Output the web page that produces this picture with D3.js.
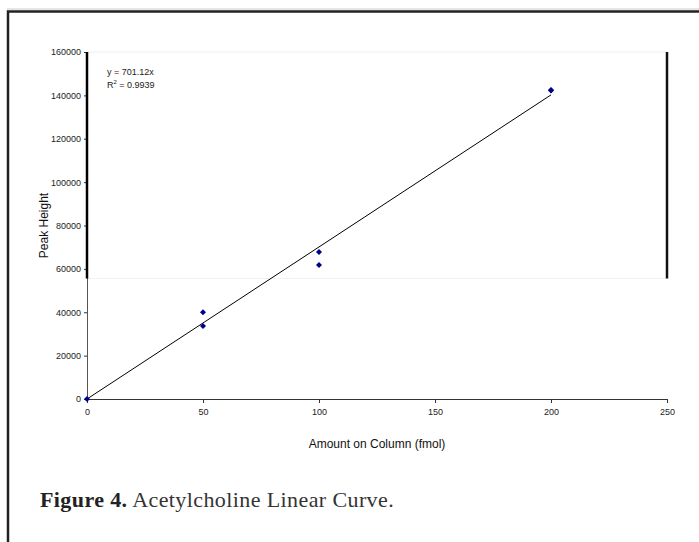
<!DOCTYPE html>
<html>
<head>
<meta charset="utf-8">
<script src="https://cdn.jsdelivr.net/npm/d3@7"></script>
<style>
html,body{margin:0;padding:0;background:#fff;}
svg{display:block;}
</style>
</head>
<body>
<script>
// Data
const amounts = [0, 50, 50, 100, 100, 200, 200];
const peakHeights = [0, 40000, 33700, 67800, 61800, 142500, 142200];
const slope = 701.12;
const rSquared = "0.9939";
const xTicks = [0, 50, 100, 150, 200, 250];
const yTicks = [0, 20000, 40000, 60000, 80000, 100000, 120000, 140000, 160000];
const xTitle = "Amount on Column (fmol)";
const yTitle = "Peak Height";
const captionBold = "Figure 4.";
const captionText = " Acetylcholine Linear Curve.";

const W = 699, H = 542;
const svg = d3.select("body").append("svg").attr("width", W).attr("height", H);

// outer frame
svg.append("line").attr("x1", 7).attr("x2", W).attr("y1", 9).attr("y2", 9)
  .attr("stroke", "#ccc").attr("stroke-width", 1);
svg.append("path").attr("d", `M8,${H} L8,11.5 L${W},11.5`)
  .attr("fill", "none").attr("stroke", "#222").attr("stroke-width", 2.5);

const x = d3.scaleLinear().domain([0, 250]).range([87, 667]);
const y = d3.scaleLinear().domain([0, 160000]).range([399, 52]);

const font = "Liberation Sans, Arial, sans-serif";

// faint plot-area lines
svg.append("line").attr("x1", x(0)).attr("x2", x(250)).attr("y1", y(160000)).attr("y2", y(160000))
  .attr("stroke", "#eee").attr("stroke-width", 1);
svg.append("line").attr("x1", x(0)).attr("x2", x(250)).attr("y1", 278.5).attr("y2", 278.5)
  .attr("stroke", "#f2f2f2").attr("stroke-width", 1);

// Y axis
const yAxis = d3.axisLeft(y).tickValues(yTicks).tickFormat(d3.format("d")).tickSize(3).tickPadding(3);
const gy = svg.append("g").attr("transform", `translate(${x(0)},0)`).call(yAxis);
gy.select(".domain").attr("stroke", "#555").attr("stroke-width", 1);
gy.selectAll(".tick line").attr("stroke", "#333");
gy.selectAll("text").attr("font-family", font).attr("font-size", 9).attr("fill", "#222");
// thick upper part of left axis
svg.append("line").attr("x1", x(0)).attr("x2", x(0)).attr("y1", y(160000)).attr("y2", 278.5)
  .attr("stroke", "#000").attr("stroke-width", 2.5);
// thick right segment
svg.append("line").attr("x1", x(250)).attr("x2", x(250)).attr("y1", y(160000)).attr("y2", 278.5)
  .attr("stroke", "#111").attr("stroke-width", 2.5);

// X axis
const xAxis = d3.axisBottom(x).tickValues(xTicks).tickSize(4).tickPadding(6);
const gx = svg.append("g").attr("transform", `translate(0,${y(0)})`).call(xAxis);
gx.select(".domain").attr("stroke", "#333").attr("stroke-width", 1);
gx.selectAll(".tick line").attr("stroke", "#333");
gx.selectAll("text").attr("font-family", font).attr("font-size", 9).attr("fill", "#222");

// trendline
svg.append("line")
  .attr("x1", x(0)).attr("y1", y(0))
  .attr("x2", x(200)).attr("y2", y(slope * 200))
  .attr("stroke", "#000").attr("stroke-width", 1);

// points (square rotated 45deg = diamond)
const sym = d3.symbol().type(d3.symbolSquare).size(18);
svg.append("g").selectAll("path").data(amounts.map((a, i) => [a, peakHeights[i]]))
  .join("path")
  .attr("d", sym)
  .attr("transform", d => `translate(${x(d[0])},${y(d[1])}) rotate(45)`)
  .attr("fill", "#00008b");

// equation
svg.append("text").attr("x", 107).attr("y", 75).attr("font-family", font).attr("font-size", 9)
  .attr("fill", "#222").text(`y = ${slope}x`);
const r2 = svg.append("text").attr("x", 107).attr("y", 88).attr("font-family", font).attr("font-size", 9)
  .attr("fill", "#222");
r2.append("tspan").text("R");
r2.append("tspan").attr("font-size", 6).attr("dy", -4).text("2");
r2.append("tspan").attr("dy", 4).text(" = " + rSquared);

// axis titles
svg.append("text").attr("x", (x(0) + x(250)) / 2).attr("y", 448).attr("text-anchor", "middle")
  .attr("font-family", font).attr("font-size", 12).attr("fill", "#111").text(xTitle);
svg.append("text").attr("transform", `translate(48,${(y(0) + y(160000)) / 2}) rotate(-90)`)
  .attr("text-anchor", "middle").attr("font-family", font).attr("font-size", 12).attr("fill", "#111").text(yTitle);

// caption
const cap = svg.append("text").attr("x", 40).attr("y", 507)
  .attr("font-family", "Liberation Serif, Times New Roman, serif").attr("font-size", 22)
  .attr("letter-spacing", 0.4).attr("fill", "#222");
cap.append("tspan").attr("font-weight", "bold").text(captionBold);
cap.append("tspan").attr("fill", "#333").text(captionText);
</script>
</body>
</html>
